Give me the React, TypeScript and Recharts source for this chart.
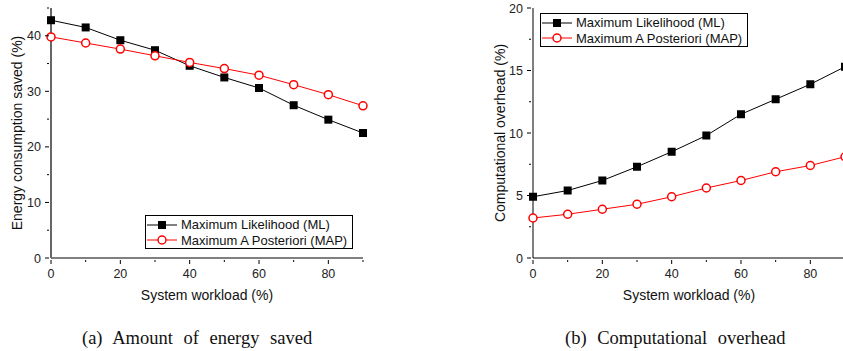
import { LineChart, Line, XAxis, YAxis } from "recharts";

const workload = [0, 10, 20, 30, 40, 50, 60, 70, 80, 90];
const energyML = [42.8, 41.5, 39.2, 37.4, 34.6, 32.5, 30.6, 27.5, 24.9, 22.5];
const energyMAP = [39.8, 38.7, 37.6, 36.4, 35.2, 34.1, 32.9, 31.2, 29.4, 27.4];
const overheadML = [4.9, 5.4, 6.2, 7.3, 8.5, 9.8, 11.5, 12.7, 13.9, 15.3];
const overheadMAP = [3.2, 3.5, 3.9, 4.3, 4.9, 5.6, 6.2, 6.9, 7.4, 8.1];

const xTicks = [0, 10, 20, 30, 40, 50, 60, 70, 80, 90];
const xLabels = [0, 20, 40, 60, 80];
const energyTicks = [0, 5, 10, 15, 20, 25, 30, 35, 40, 45];
const energyLabels = [0, 10, 20, 30, 40];
const overheadTicks = [0, 2.5, 5, 7.5, 10, 12.5, 15, 17.5, 20];
const overheadLabels = [0, 5, 10, 15, 20];

const seriesNames = ["Maximum Likelihood (ML)", "Maximum A Posteriori (MAP)"];

const energyData = workload.map((w, i) => ({ w, ml: energyML[i], map: energyMAP[i] }));
const overheadData = workload.map((w, i) => ({ w, ml: overheadML[i], map: overheadMAP[i] }));

const font = "'Liberation Sans', Arial, sans-serif";
const serif = "'Liberation Serif', 'Times New Roman', serif";

const Square = (props: any) => {
  const { cx, cy } = props;
  return <rect x={cx - 4} y={cy - 4} width={8} height={8} fill="#000" />;
};

const Circle = (props: any) => {
  const { cx, cy } = props;
  return <circle cx={cx} cy={cy} r={4} fill="#fff" stroke="#ff0000" strokeWidth={1.5} />;
};

// tick drawers: tickSize=0, so x/y are the axis position
const bottomTick = (labels: number[]) => (props: any) => {
  const { x, y, payload } = props;
  const major = labels.includes(payload.value);
  return (
    <g>
      <line x1={x} x2={x} y1={y} y2={y + (major ? 4 : 2)} stroke="#000" />
      {major && (
        <text x={x} y={y + 18} textAnchor="middle" fontSize={12.5} fontFamily={font} fill="#222">
          {payload.value}
        </text>
      )}
    </g>
  );
};

const leftTick = (labels: number[]) => (props: any) => {
  const { x, y, payload } = props;
  const major = labels.includes(payload.value);
  return (
    <g>
      <line x1={x} x2={x - (major ? 4 : 2)} y1={y} y2={y} stroke="#000" />
      {major && (
        <text x={x - 8} y={y + 4.5} textAnchor="end" fontSize={12.5} fontFamily={font} fill="#222">
          {payload.value}
        </text>
      )}
    </g>
  );
};

const topTick = (labels: number[]) => (props: any) => {
  const { x, y, payload } = props;
  const major = labels.includes(payload.value);
  return <line x1={x} x2={x} y1={y} y2={y + (major ? 4 : 2)} stroke="#000" />;
};

const rightTick = (labels: number[]) => (props: any) => {
  const { x, y, payload } = props;
  const major = labels.includes(payload.value);
  return <line x1={x} x2={x - (major ? 4 : 2)} y1={y} y2={y} stroke="#000" />;
};

const LegendBox = ({ left, top }: { left: number; top: number }) => (
  <div
    style={{
      position: "absolute",
      left,
      top,
      width: 208,
      height: 34,
      border: "1px solid #000",
      background: "#fff",
      fontFamily: font,
      fontSize: 13,
      color: "#111",
      lineHeight: "15px",
      padding: "1px 0",
      boxSizing: "border-box",
      whiteSpace: "nowrap",
    }}
  >
    {seriesNames.map((name, i) => (
      <div key={name} style={{ display: "flex", alignItems: "center", height: 15.5 }}>
        <svg width={34} height={12}>
          <line x1={1} x2={31} y1={6} y2={6} stroke={i === 0 ? "#000" : "#ff0000"} />
          {i === 0 ? (
            <rect x={12} y={2} width={8} height={8} fill="#000" />
          ) : (
            <circle cx={16} cy={6} r={4} fill="#fff" stroke="#ff0000" strokeWidth={1.5} />
          )}
        </svg>
        <span style={{ marginLeft: 1 }}>{name}</span>
      </div>
    ))}
  </div>
);

type PanelProps = {
  data: any[];
  yTicks: number[];
  yLabels: number[];
  yMax: number;
  yTitle: string;
  titleDx: number;
  marginLeft: number;
  marginRight: number;
  sideStroke: string;
  sideWidth: number;
};

function Panel(p: PanelProps) {
  return (
    <LineChart
      width={380}
      height={310}
      data={p.data}
      margin={{ top: 8, right: p.marginRight, left: p.marginLeft, bottom: 22 }}
    >
      <XAxis
        dataKey="w"
        type="number"
        domain={[0, 90]}
        ticks={xTicks}
        interval={0}
        tickSize={0}
        tickLine={false}
        tick={bottomTick(xLabels)}
        axisLine={{ stroke: "#000", strokeWidth: 1 }}
        height={30}
        label={{
          value: "System workload (%)",
          position: "insideBottom",
          offset: -12,
          fontSize: 14,
          fontFamily: font,
          fill: "#111",
        }}
      />
      <XAxis
        xAxisId="top"
        orientation="top"
        dataKey="w"
        type="number"
        domain={[0, 90]}
        ticks={xTicks}
        interval={0}
        tickSize={0}
        tickLine={false}
        tick={topTick(xLabels)}
        axisLine={{ stroke: "#000", strokeWidth: 1 }}
        height={0}
      />
      <YAxis
        type="number"
        domain={[0, p.yMax]}
        ticks={p.yTicks}
        interval={0}
        tickSize={0}
        tickLine={false}
        tick={leftTick(p.yLabels)}
        axisLine={{ stroke: p.sideStroke, strokeWidth: p.sideWidth }}
        width={40}
        label={{
          value: p.yTitle,
          angle: -90,
          position: "insideLeft",
          offset: 0,
          dx: p.titleDx,
          fontSize: 14,
          fontFamily: font,
          fill: "#111",
          style: { textAnchor: "middle" },
        }}
      />
      <YAxis
        yAxisId="right"
        orientation="right"
        type="number"
        domain={[0, p.yMax]}
        ticks={p.yTicks}
        interval={0}
        tickSize={0}
        tickLine={false}
        tick={rightTick(p.yLabels)}
        axisLine={{ stroke: p.sideStroke, strokeWidth: p.sideWidth }}
        width={0}
      />
      <Line
        dataKey="ml"
        stroke="#000"
        strokeWidth={1}
        dot={<Square />}
        isAnimationActive={false}
      />
      <Line
        dataKey="map"
        stroke="#ff0000"
        strokeWidth={1}
        dot={<Circle />}
        isAnimationActive={false}
      />
    </LineChart>
  );
}

const captionStyle: any = {
  position: "absolute",
  top: 328,
  fontFamily: serif,
  fontSize: 18.5,
  wordSpacing: 6,
  color: "#111",
  whiteSpace: "nowrap",
};

export default function App() {
  return (
    <div
      style={{
        position: "absolute",
        left: 0,
        top: 0,
        width: 843,
        height: 351,
        overflow: "hidden",
        background: "#fff",
      }}
    >
      <div style={{ position: "absolute", left: 0, top: 0 }}>
        <Panel
          data={energyData}
          yTicks={energyTicks}
          yLabels={energyLabels}
          yMax={45}
          yTitle="Energy consumption saved (%)"
          titleDx={6}
          marginLeft={11}
          marginRight={17}
          sideStroke="#666"
          sideWidth={2}
        />
      </div>
      <div style={{ position: "absolute", left: 470, top: 0 }}>
        <Panel
          data={overheadData}
          yTicks={overheadTicks}
          yLabels={overheadLabels}
          yMax={20}
          yTitle="Computational overhead (%)"
          titleDx={7}
          marginLeft={23}
          marginRight={5}
          sideStroke="#000"
          sideWidth={1}
        />
      </div>
      <LegendBox left={145} top={215} />
      <LegendBox left={540} top={13} />
      <div style={{ ...captionStyle, left: 82 }}>(a) Amount of energy saved</div>
      <div style={{ ...captionStyle, left: 565 }}>(b) Computational overhead</div>
    </div>
  );
}
